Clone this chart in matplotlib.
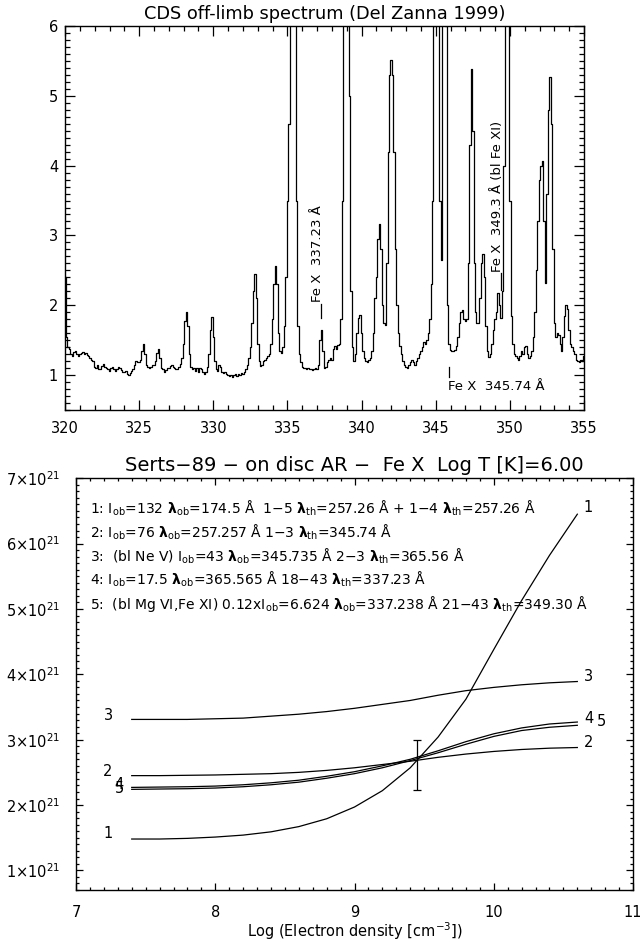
import matplotlib

matplotlib.use("Agg")
import matplotlib.pyplot as plt
import numpy as np
from matplotlib.ticker import FuncFormatter, MultipleLocator

plt.rcParams["font.family"] = ["DejaVu Sans"]
plt.rcParams["mathtext.fontset"] = "dejavusans"

# --- top panel: CDS off-limb spectrum, 0.1 A bins starting at 320.0 A ---
WAVE_START = 320.0
WAVE_STEP = 0.1
FLUX = [
    2.40, 1.55, 1.40, 1.38, 1.30, 1.28, 1.33, 1.34, 1.30, 1.28,  # 320
    1.30, 1.32, 1.33, 1.30, 1.31, 1.29, 1.27, 1.25, 1.22, 1.20,  # 321
    1.12, 1.10, 1.14, 1.09, 1.08, 1.13, 1.16, 1.12, 1.10, 1.08,  # 322
    1.06, 1.10, 1.12, 1.08, 1.06, 1.09, 1.12, 1.10, 1.07, 1.05,  # 323
    1.04, 1.06, 1.02, 1.00, 1.03, 1.06, 1.09, 1.15, 1.20, 1.19,  # 324
    1.18, 1.22, 1.35, 1.44, 1.30, 1.15, 1.12, 1.10, 1.12, 1.14,  # 325
    1.14, 1.20, 1.32, 1.38, 1.25, 1.10, 1.08, 1.05, 1.07, 1.10,  # 326
    1.10, 1.13, 1.14, 1.12, 1.10, 1.08, 1.09, 1.12, 1.16, 1.25,  # 327
    1.45, 1.78, 1.90, 1.70, 1.30, 1.12, 1.08, 1.10, 1.06, 1.10,  # 328
    1.05, 1.10, 1.08, 1.05, 1.02, 1.05, 1.12, 1.30, 1.65, 1.83,  # 329
    1.55, 1.20, 1.08, 1.06, 1.15, 1.12, 1.05, 1.03, 1.05, 1.02,  # 330
    1.00, 0.98, 1.00, 0.97, 1.00, 1.02, 0.99, 1.01, 1.00, 1.03,  # 331
    1.02, 1.04, 1.08, 1.15, 1.25, 1.40, 1.75, 2.20, 2.45, 2.10,  # 332
    1.45, 1.20, 1.13, 1.15, 1.20, 1.22, 1.25, 1.28, 1.30, 1.45,  # 333
    1.80, 2.30, 2.56, 2.30, 1.60, 1.35, 1.31, 1.40, 1.70, 2.40,  # 334
    3.50, 4.60, 7.00, 10.0, 10.5, 8.00, 3.50, 1.70, 1.30, 1.18,  # 335
    1.12, 1.10, 1.10, 1.08, 1.10, 1.08, 1.09, 1.07, 1.08, 1.10,  # 336
    1.08, 1.15, 1.50, 1.65, 1.35, 1.10, 1.12, 1.18, 1.22, 1.25,  # 337
    1.22, 1.38, 1.42, 1.38, 1.43, 1.45, 1.80, 3.50, 7.00, 10.0,  # 338
    11.0, 9.00, 5.00, 2.20, 1.40, 1.20, 1.30, 1.60, 1.82, 1.86,  # 339
    1.60, 1.35, 1.25, 1.20, 1.18, 1.22, 1.25, 1.35, 1.60, 2.10,  # 340
    2.40, 2.95, 3.17, 2.80, 2.00, 1.75, 1.72, 2.60, 4.20, 5.30,  # 341
    5.51, 5.30, 4.20, 2.80, 2.00, 1.60, 1.42, 1.30, 1.20, 1.15,  # 342
    1.12, 1.10, 1.15, 1.18, 1.22, 1.18, 1.15, 1.20, 1.25, 1.30,  # 343
    1.35, 1.40, 1.48, 1.45, 1.50, 1.60, 1.80, 2.30, 3.50, 6.00,  # 344
    10.0, 11.0, 7.00, 3.50, 2.65, 7.00, 10.0, 6.00, 2.00, 1.45,  # 345
    1.36, 1.35, 1.35, 1.36, 1.42, 1.55, 1.75, 1.90, 1.93, 1.80,  # 346
    1.77, 1.80, 2.60, 4.30, 5.39, 4.50, 2.60, 1.90, 1.75, 1.74,  # 347
    2.10, 2.60, 2.74, 2.40, 1.70, 1.35, 1.26, 1.30, 1.45, 1.65,  # 348
    1.80, 1.90, 2.17, 2.00, 1.82, 2.20, 4.00, 8.00, 11.0, 8.00,  # 349
    3.50, 1.85, 1.45, 1.30, 1.27, 1.25, 1.22, 1.28, 1.35, 1.30,  # 350
    1.40, 1.42, 1.30, 1.25, 1.28, 1.35, 1.55, 1.90, 2.50, 3.20,  # 351
    3.80, 4.00, 4.06, 3.20, 2.32, 3.60, 4.80, 5.27, 4.60, 2.80,  # 352
    1.75, 1.55, 1.60, 1.58, 1.45, 1.35, 1.55, 1.85, 2.00, 1.95,  # 353
    1.65, 1.45, 1.40, 1.35, 1.30, 1.22, 1.20, 1.18, 1.22, 1.20,  # 354
    1.28,                                                        # 355
]

# --- bottom panel: emissivity ratios vs density (units of 1e21) ---
LOG_NE = [7.4, 7.6, 7.8, 8.0, 8.2, 8.4, 8.6, 8.8, 9.0,
          9.2, 9.4, 9.6, 9.8, 10.0, 10.2, 10.4, 10.6]
CURVES = {
    "1": [1.48, 1.48, 1.49, 1.51, 1.54, 1.59, 1.67, 1.79, 1.97,
          2.22, 2.57, 3.04, 3.62, 4.38, 5.13, 5.82, 6.45],
    "2": [2.45, 2.45, 2.455, 2.46, 2.47, 2.48, 2.50, 2.53, 2.57,
          2.62, 2.67, 2.73, 2.78, 2.82, 2.85, 2.87, 2.88],
    "3": [3.31, 3.31, 3.31, 3.32, 3.33, 3.36, 3.39, 3.43, 3.48,
          3.54, 3.60, 3.68, 3.75, 3.80, 3.84, 3.87, 3.89],
    "4": [2.27, 2.275, 2.28, 2.29, 2.31, 2.34, 2.38, 2.44, 2.51,
          2.60, 2.70, 2.83, 2.97, 3.09, 3.18, 3.24, 3.27],
    "5": [2.24, 2.245, 2.25, 2.26, 2.28, 2.31, 2.35, 2.41, 2.48,
          2.57, 2.68, 2.80, 2.93, 3.05, 3.14, 3.19, 3.22],
}
# (x, y) of the left and right curve numbers
LEFT_LABELS = {"1": (7.23, 1.57), "2": (7.23, 2.52), "3": (7.23, 3.37),
               "4": (7.31, 2.32), "5": (7.31, 2.26)}
RIGHT_LABELS = {"1": (10.68, 6.55), "2": (10.68, 2.96), "3": (10.68, 3.97),
                "4": (10.68, 3.33), "5": (10.77, 3.28)}
OBS_LOG_NE = 9.45
OBS_RATIO = 2.61
OBS_ERR = 0.385

LAM = r"$\mathbf{\lambda}$"
INFO_LINES = [
    r"1: I$_{\rm ob}$=132 " + LAM + r"$_{\rm ob}$=174.5 Å  1−5 " + LAM
    + r"$_{\rm th}$=257.26 Å + 1−4 " + LAM + r"$_{\rm th}$=257.26 Å",
    r"2: I$_{\rm ob}$=76 " + LAM + r"$_{\rm ob}$=257.257 Å 1−3 " + LAM
    + r"$_{\rm th}$=345.74 Å",
    r"3:  (bl Ne V) I$_{\rm ob}$=43 " + LAM + r"$_{\rm ob}$=345.735 Å 2−3 "
    + LAM + r"$_{\rm th}$=365.56 Å",
    r"4: I$_{\rm ob}$=17.5 " + LAM + r"$_{\rm ob}$=365.565 Å 18−43 " + LAM
    + r"$_{\rm th}$=337.23 Å",
    r"5:  (bl Mg VI,Fe XI) 0.12xI$_{\rm ob}$=6.624 " + LAM
    + r"$_{\rm ob}$=337.238 Å 21−43 " + LAM + r"$_{\rm th}$=349.30 Å",
]
INFO_Y = [6.54, 6.18, 5.81, 5.45, 5.08]

fig = plt.figure(figsize=(6.4, 9.42), dpi=100)

# ---------------- top panel ----------------
ax1 = fig.add_axes([0.1016, 0.5648, 0.8109, 0.4076])
wave = WAVE_START + WAVE_STEP * np.arange(len(FLUX))
ax1.step(wave, FLUX, where="mid", color="black", lw=0.9)
ax1.set_xlim(320, 355)
ax1.set_ylim(0.5, 6)
ax1.xaxis.set_major_locator(MultipleLocator(5))
ax1.xaxis.set_minor_locator(MultipleLocator(1))
ax1.yaxis.set_major_locator(MultipleLocator(1))
ax1.yaxis.set_minor_locator(MultipleLocator(0.1))
ax1.yaxis.set_major_formatter(FuncFormatter(lambda v, p: f"{v:.0f}"))
ax1.tick_params(which="both", direction="in", top=True, right=True,
                labelsize=10.5, width=0.9)
ax1.tick_params(which="major", length=7)
ax1.tick_params(which="minor", length=3.5)
ax1.tick_params(axis="x", pad=8)
ax1.tick_params(axis="y", pad=5)
ax1.set_title("CDS off-limb spectrum (Del Zanna 1999)", fontsize=12.8, pad=5)

ax1.plot([337.28, 337.28], [1.82, 2.02], color="black", lw=0.9)
ax1.text(337.05, 2.04, "Fe X  337.23 Å", rotation=90, ha="center",
         va="bottom", fontsize=9.5)
ax1.plot([349.38, 349.38], [2.22, 2.46], color="black", lw=0.9)
ax1.text(349.18, 2.48, "Fe X  349.3 Å (bl Fe XI)", rotation=90, ha="center",
         va="bottom", fontsize=9.5)
ax1.plot([345.9, 345.9], [0.97, 1.12], color="black", lw=0.9)
ax1.text(345.8, 0.84, "Fe X  345.74 Å", ha="left", va="center", fontsize=9.5)

for s in ax1.spines.values():
    s.set_linewidth(1.0)

# ---------------- bottom panel ----------------
ax2 = fig.add_axes([0.1188, 0.0552, 0.8703, 0.4371])
for key, vals in CURVES.items():
    ax2.plot(LOG_NE, vals, color="black", lw=0.9)
    lx, ly = LEFT_LABELS[key]
    ax2.text(lx, ly, key, ha="center", va="center", fontsize=10.5)
    rx, ry = RIGHT_LABELS[key]
    ax2.text(rx, ry, key, ha="center", va="center", fontsize=10.5)
ax2.errorbar([OBS_LOG_NE], [OBS_RATIO], yerr=[OBS_ERR], fmt="none",
             ecolor="black", elinewidth=0.9, capsize=3, capthick=0.9)

for y, line in zip(INFO_Y, INFO_LINES):
    ax2.text(7.10, y, line, ha="left", va="center", fontsize=10)

ax2.set_xlim(7, 11)
ax2.set_ylim(0.7, 7)
ax2.xaxis.set_major_locator(MultipleLocator(1))
ax2.xaxis.set_minor_locator(MultipleLocator(0.1))
ax2.yaxis.set_major_locator(MultipleLocator(1))
ax2.yaxis.set_minor_locator(MultipleLocator(0.1))
ax2.xaxis.set_major_formatter(FuncFormatter(lambda v, p: f"{v:.0f}"))
ax2.yaxis.set_major_formatter(
    FuncFormatter(lambda v, p: rf"${v:.0f}{{\times}}10^{{21}}$"))
ax2.tick_params(which="both", direction="in", top=True, right=True,
                labelsize=10.5, width=0.9)
ax2.tick_params(which="major", length=5)
ax2.tick_params(which="minor", length=2.5)
ax2.tick_params(axis="x", pad=11)
ax2.tick_params(axis="y", pad=11)
ax2.set_title("Serts−89 − on disc AR −  Fe X  Log T [K]=6.00",
              fontsize=14, pad=5)
ax2.set_xlabel(r"Log (Electron density [cm$^{-3}$])", fontsize=10.5,
               labelpad=0)
for s in ax2.spines.values():
    s.set_linewidth(1.0)

fig.savefig("out.png", dpi=100)
